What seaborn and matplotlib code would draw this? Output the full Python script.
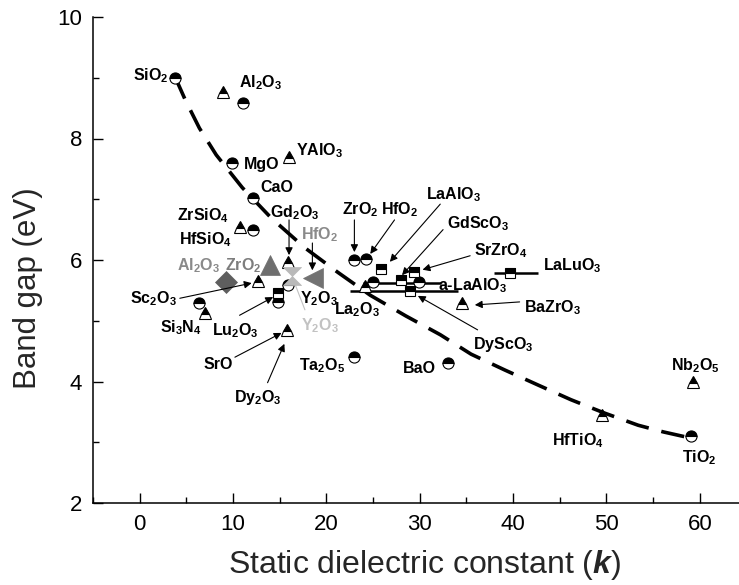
import matplotlib
matplotlib.use("Agg")
import matplotlib.pyplot as plt
from matplotlib.ticker import MultipleLocator
import seaborn as sns

# ---- measured oxides: static dielectric constant k and band gap (eV) ----
circle_k = [3.8, 11.1, 9.9, 12.1, 12.1, 6.4, 15.9, 14.8, 23.0, 24.2, 25.0, 29.9, 23.0, 33.0, 59.1]
circle_gap = [9.0, 8.58, 7.59, 7.02, 6.5, 5.29, 5.59, 5.31, 6.0, 6.01, 5.63, 5.63, 4.41, 4.30, 3.10]

triangle_k = [8.9, 16.0, 10.8, 15.9, 12.7, 7.0, 15.8, 24.1, 34.5, 49.5, 59.3]
triangle_gap = [8.76, 7.70, 6.55, 5.96, 5.65, 5.12, 4.85, 5.57, 5.30, 3.45, 4.0]

square_k = [14.8, 25.8, 29.4, 28.0, 29.0, 39.7]
square_gap = [5.45, 5.86, 5.81, 5.67, 5.49, 5.78]

# ranges of k reported for amorphous / crystalline films
range_k_lo = [22.5, 23.9, 38.0]
range_k_hi = [34.1, 32.3, 42.7]
range_gap = [5.49, 5.62, 5.78]

# second data set (grey symbols)
grey_k = [9.2, 14.0, 18.6, 16.3]
grey_gap = [5.63, 5.92, 5.70, 5.73]

# empirical trend of band gap with k
trend_k = [3.8, 4.9, 6.4, 8.2, 11.0, 14.1, 17.7, 21.2, 24.7, 28.5, 32.2, 35.5,
           39.1, 42.7, 46.2, 49.8, 53.4, 56.1, 59.0]
trend_gap = [9.01, 8.63, 8.17, 7.73, 7.19, 6.69, 6.20, 5.80, 5.42, 5.08, 4.77, 4.45,
             4.19, 3.94, 3.70, 3.48, 3.28, 3.17, 3.07]

x_ticks = [0, 10, 20, 30, 40, 50, 60]
y_ticks = [2, 4, 6, 8, 10]

# ---- label layout: (text, k, gap, colour) ----
labels = [
    ("SiO$_2$", 1.2, 9.08, "black"),
    ("Al$_2$O$_3$", 12.9, 8.96, "black"),
    ("MgO", 13.1, 7.60, "black"),
    ("YAlO$_3$", 19.3, 7.84, "black"),
    ("CaO", 14.7, 7.22, "black"),
    ("ZrSiO$_4$", 6.75, 6.77, "black"),
    ("HfSiO$_4$", 7.0, 6.38, "black"),
    ("Gd$_2$O$_3$", 16.6, 6.82, "black"),
    ("Sc$_2$O$_3$", 1.5, 5.41, "black"),
    ("Si$_3$N$_4$", 4.4, 4.93, "black"),
    ("Lu$_2$O$_3$", 10.3, 4.88, "black"),
    ("SrO", 8.4, 4.30, "black"),
    ("Dy$_2$O$_3$", 12.7, 3.78, "black"),
    ("Ta$_2$O$_5$", 19.5, 4.30, "black"),
    ("Y$_2$O$_3$", 19.2, 5.40, "black"),
    ("La$_2$O$_3$", 23.3, 5.22, "black"),
    ("ZrO$_2$", 23.6, 6.86, "black"),
    ("HfO$_2$", 27.8, 6.86, "black"),
    ("LaAlO$_3$", 33.6, 7.12, "black"),
    ("GdScO$_3$", 36.2, 6.63, "black"),
    ("SrZrO$_4$", 38.7, 6.20, "black"),
    ("LaLuO$_3$", 46.3, 5.95, "black"),
    ("a-LaAlO$_3$", 35.7, 5.62, "black"),
    ("BaZrO$_3$", 44.2, 5.26, "black"),
    ("DyScO$_3$", 38.9, 4.65, "black"),
    ("BaO", 30.0, 4.24, "black"),
    ("Nb$_2$O$_5$", 59.5, 4.30, "black"),
    ("HfTiO$_4$", 46.9, 3.07, "black"),
    ("TiO$_2$", 59.9, 2.79, "black"),
    ("HfO$_2$", 19.3, 6.46, "#8a8a8a"),
    ("Al$_2$O$_3$", 6.3, 5.95, "#8a8a8a"),
    ("ZrO$_2$", 11.1, 5.95, "#7d7d7d"),
    ("Y$_2$O$_3$", 19.3, 4.96, "#c2c2c2"),
]

# leader arrows: (start k, start gap, end k, end gap)
arrows = [
    (16.0, 6.66, 16.0, 6.08),
    (18.5, 6.28, 18.5, 5.83),
    (23.0, 6.66, 23.0, 6.13),
    (27.3, 6.66, 24.7, 6.10),
    (32.2, 6.92, 26.8, 5.97),
    (32.5, 6.50, 28.1, 5.75),
    (35.4, 6.07, 30.3, 5.84),
    (36.2, 4.85, 29.8, 5.41),
    (40.7, 5.31, 35.9, 5.26),
    (4.3, 5.37, 12.0, 5.62),
    (10.7, 5.09, 14.3, 5.39),
    (10.2, 4.40, 15.2, 4.80),
    (13.7, 3.98, 15.5, 4.62),
]

sns.set_theme(style="ticks")
plt.rcParams.update({
    "font.family": ["Liberation Sans", "DejaVu Sans"],
    "mathtext.fontset": "custom",
    "mathtext.rm": "Liberation Sans",
    "mathtext.bf": "Liberation Sans:bold",
    "mathtext.bfit": "Liberation Sans:italic:bold",
    "mathtext.default": "bf",
})

fig = plt.figure(figsize=(7.39, 5.85), dpi=100)
ax = fig.add_axes([93 / 739, 1 - 503 / 585, (739 - 93) / 739, (503 - 17) / 585])

# trend curve
sns.lineplot(x=trend_k, y=trend_gap, ax=ax, sort=False, estimator=None, errorbar=None,
             color="black", lw=2.6, linestyle=(0, (6.5, 3.6)), legend=False, zorder=2)

# k ranges
for lo, hi, g in zip(range_k_lo, range_k_hi, range_gap):
    ax.plot([lo, hi], [g, g], color="black", lw=1.8, solid_capstyle="butt", zorder=3)

half = dict(ax=ax, sort=False, estimator=None, errorbar=None, linestyle="", legend=False,
            color="black", fillstyle="top", markerfacecolor="black",
            markerfacecoloralt="white", mec="black", mew=0.8, zorder=4)
sns.lineplot(x=circle_k, y=circle_gap, marker="o", markersize=8, **half)
sns.lineplot(x=triangle_k, y=triangle_gap, marker="^", markersize=9, **half)
sns.lineplot(x=square_k, y=square_gap, marker="s", markersize=6.5, **half)

# grey symbols
hourglass = [(-1, 1), (1, 1), (0, 0), (1, -1), (-1, -1), (0, 0), (-1, 1)]
grey_markers = ["D", "^", "<", hourglass]
grey_colors = ["#5e5e5e", "#6e6e6e", "#727272", "#b9b9b9"]
grey_sizes = [11, 15, 15, 13]
for k, g, m, c, s in zip(grey_k, grey_gap, grey_markers, grey_colors, grey_sizes):
    sns.lineplot(x=[k], y=[g], ax=ax, marker=m, markersize=s, linestyle="", color=c,
                 markerfacecolor=c, mec=c, mew=0.5, estimator=None, errorbar=None,
                 legend=False, zorder=5)

for x0, y0, x1, y1 in arrows:
    ax.annotate("", xy=(x1, y1), xytext=(x0, y0),
                arrowprops=dict(arrowstyle="-|>", color="black", lw=0.8,
                                mutation_scale=11, shrinkA=0, shrinkB=0), zorder=6)
# light grey leader for the second Y2O3 value
ax.plot([17.7, 16.6], [5.18, 5.62], color="#c2c2c2", lw=0.8, zorder=3)

for text, x, y, c in labels:
    ax.text(x, y, text, color=c, fontsize=11.5, fontweight="bold",
            ha="center", va="center_baseline", zorder=7)

ax.set_xlim(-5, 64.2)
ax.set_ylim(2, 10)
ax.set_xticks(x_ticks)
ax.set_yticks(y_ticks)
ax.xaxis.set_minor_locator(MultipleLocator(5))
ax.yaxis.set_minor_locator(MultipleLocator(1))
ax.tick_params(which="both", direction="in", width=1.0, colors="black", labelsize=16)
ax.tick_params(which="major", length=7, pad=8)
ax.tick_params(which="minor", length=4)
for side in ("left", "bottom"):
    ax.spines[side].set_color("black")
    ax.spines[side].set_linewidth(1.1)
sns.despine(ax=ax)
ax.set_xlabel("Static dielectric constant ($\\mathbfit{k}$)", fontsize=23)
ax.set_ylabel("Band gap (eV)", fontsize=22.5)
ax.xaxis.label.set_va("center")
ax.yaxis.label.set_va("center")
ax.xaxis.set_label_coords((425 - 93) / 646, -(565 - 503) / 486)
ax.yaxis.set_label_coords((28 - 93) / 646, (503 - 288) / 486)
ax.set_facecolor("white")
fig.patch.set_facecolor("white")

fig.savefig("out.png", dpi=100)
